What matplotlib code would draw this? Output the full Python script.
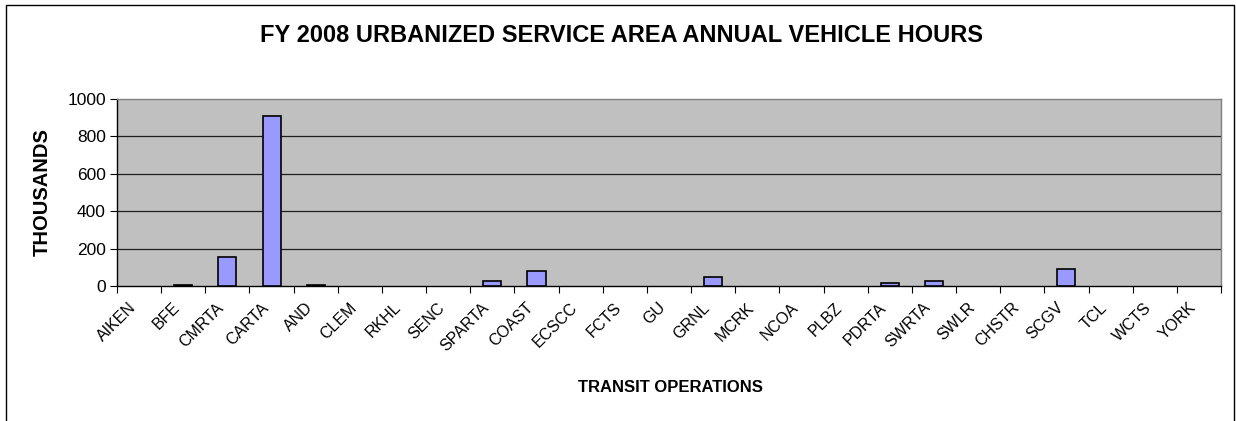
import numpy as np
import matplotlib.pyplot as plt
import matplotlib.transforms as mtransforms
from matplotlib.patches import Rectangle

# transit operations and annual vehicle hours (thousands)
operations = ['AIKEN', 'BFE', 'CMRTA', 'CARTA', 'AND', 'CLEM', 'RKHL', 'SENC',
              'SPARTA', 'COAST', 'ECSCC', 'FCTS', 'GU', 'GRNL', 'MCRK', 'NCOA',
              'PLBZ', 'PDRTA', 'SWRTA', 'SWLR', 'CHSTR', 'SCGV', 'TCL', 'WCTS', 'YORK']
hours = [0, 7, 155, 911, 7, 0, 0, 0,
         28, 78, 0, 0, 0, 46, 0, 0,
         0, 17, 28, 0, 0, 91, 0, 0, 0]
yticks = [0, 200, 400, 600, 800, 1000]

plt.rcParams['font.family'] = ['Liberation Sans', 'DejaVu Sans']

fig = plt.figure(figsize=(12.36, 4.21), dpi=100)
# outer chart frame
fig.patches.append(Rectangle((6/1236, -0.05), 1228/1236, 1.05 - 5/421,
                             transform=fig.transFigure, fill=False,
                             edgecolor='black', linewidth=1.0))

ax = fig.add_axes([117/1236, 1 - 286/421, 1104/1236, 187/421])
ax.set_facecolor('#C0C0C0')
x = np.arange(len(operations))
h = np.array(hours, dtype=float)
nz = h > 0  # zero values show no bar
ax.bar(x[nz], h[nz], width=0.41, color='#9999FF', edgecolor='black', linewidth=1.2, zorder=3)

ax.set_xlim(-0.5, len(operations) - 0.5)
ax.set_ylim(0, 1000)
ax.set_yticks(yticks)
ax.set_yticklabels([str(v) for v in yticks], fontsize=12.5)
for v in yticks[1:-1]:
    ax.axhline(v, color='#202020', linewidth=0.9, zorder=1)

# ticks at category boundaries, labels at centres
ax.set_xticks(np.arange(len(operations) + 1) - 0.5)
ax.set_xticklabels([])
ax.set_xticks(x, minor=True)
ax.set_xticklabels(operations, minor=True, rotation=45, ha='right',
                   rotation_mode='anchor', fontsize=11.5)
ax.tick_params(axis='x', which='minor', length=0, pad=10)
ax.tick_params(axis='x', which='major', length=5, direction='out', color='black')
ax.tick_params(axis='y', length=5, direction='out', pad=3)
shift = mtransforms.ScaledTranslation(-11/100, 0, fig.dpi_scale_trans)
for lbl in ax.get_xticklabels(minor=True):
    lbl.set_transform(lbl.get_transform() + shift)

for s in ['left', 'bottom']:
    ax.spines[s].set_color('black')
    ax.spines[s].set_linewidth(1.0)
for s in ['top', 'right']:
    ax.spines[s].set_color('#808080')
    ax.spines[s].set_linewidth(1.0)

fig.text(42/1236, 1 - 192/421, 'THOUSANDS', fontsize=14.5, fontweight='bold',
         rotation=90, ha='center', va='center')
fig.text(670/1236, 1 - 387/421, 'TRANSIT OPERATIONS', fontsize=12, fontweight='bold',
         ha='center', va='center')
fig.text(621/1236, 1 - 36/421, 'FY 2008 URBANIZED SERVICE AREA ANNUAL VEHICLE HOURS',
         fontsize=17, fontweight='bold', ha='center', va='center')

fig.savefig('out.png', dpi=100)
